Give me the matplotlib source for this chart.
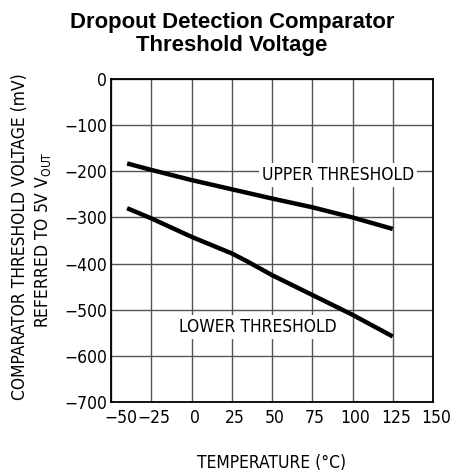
import matplotlib
matplotlib.use("Agg")
import matplotlib.pyplot as plt
import matplotlib.transforms as mtransforms

# temperatures (deg C) and threshold voltages (mV)
temp = [-40, -25, 0, 25, 50, 75, 100, 125]
upper_mv = [-183, -197, -219, -239, -259, -278, -300, -325]
lower_temp = [-40, -25, 0, 25, 35, 50, 75, 100, 125]
lower_mv = [-280, -302, -342, -378, -396, -425, -468, -511, -558]

x_ticks = [-50, -25, 0, 25, 50, 75, 100, 125, 150]
y_ticks = [0, -100, -200, -300, -400, -500, -600, -700]

cad_font = "DejaVu Sans"
fs = 12.5

fig = plt.figure(figsize=(4.51, 4.76), dpi=100)
ax = fig.add_axes([111 / 451, 1 - 402 / 476, 322 / 451, 323 / 476])

ax.plot(temp, upper_mv, color="black", linewidth=3.2, solid_capstyle="butt", zorder=3)
ax.plot(lower_temp, lower_mv, color="black", linewidth=3.2, solid_capstyle="butt", zorder=3)

ax.set_xlim(-50, 150)
ax.set_ylim(-700, 0)
ax.set_xticks(x_ticks)
ax.set_yticks(y_ticks)
ax.set_xticklabels([str(t).replace("-", "\u2212") for t in x_ticks], family=cad_font, fontsize=fs, stretch="condensed")
ax.set_yticklabels([str(t).replace("-", "\u2212") if t else "0" for t in y_ticks], family=cad_font, fontsize=fs, stretch="condensed")
ax.tick_params(length=0, pad=3)
ax.tick_params(axis="x", pad=5)
ax.grid(True, color="#555555", linewidth=1.0)
for s in ax.spines.values():
    s.set_linewidth(1.3)

# nudge x tick labels slightly right as in the original sheet
for i, lbl in enumerate(ax.get_xticklabels()):
    dx = 10 if i == 0 else 3
    lbl.set_transform(lbl.get_transform() + mtransforms.ScaledTranslation(dx / 100, 0, fig.dpi_scale_trans))

ax.text(91, -208, "UPPER THRESHOLD", family=cad_font, fontsize=fs, stretch="condensed", ha="center", va="center",
        bbox=dict(facecolor="white", edgecolor="none", pad=2), zorder=4)
ax.text(41, -537, "LOWER THRESHOLD", family=cad_font, fontsize=fs, stretch="condensed", ha="center", va="center",
        bbox=dict(facecolor="white", edgecolor="none", pad=2), zorder=4)

fig.text(272 / 451, 1 - 463 / 476, "TEMPERATURE (\u00b0C)", family=cad_font, fontsize=fs,
         stretch="condensed", ha="center", va="center")
fig.text(20 / 451, 1 - 237 / 476, "COMPARATOR THRESHOLD VOLTAGE (mV)", family=cad_font,
         fontsize=fs, stretch="condensed", rotation=90, ha="center", va="center")
fig.text(43 / 451, 1 - 240 / 476, "REFERRED TO 5V V$_{\\mathregular{OUT}}$", family=cad_font,
         fontsize=fs, stretch="condensed", rotation=90, ha="center", va="center")

fig.text(232 / 451, 1 - 34 / 476, "Dropout Detection Comparator\nThreshold Voltage", family="Liberation Sans",
         fontweight="bold", fontsize=15.9, ha="center", va="center", linespacing=1.15)

fig.savefig("out.png", dpi=100)
